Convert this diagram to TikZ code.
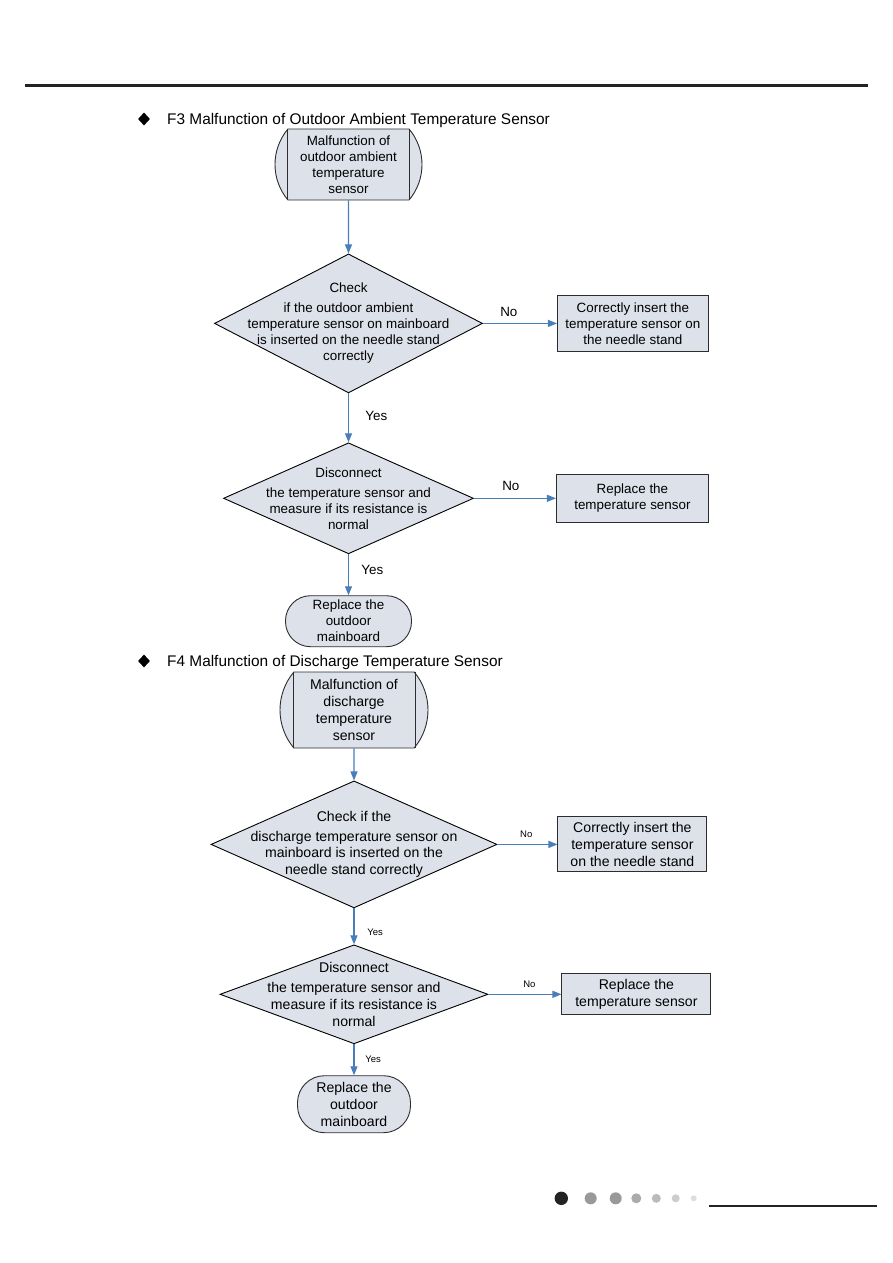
\documentclass[tikz,border=0pt]{standalone}
\usepackage{fontspec}
\setmainfont{Liberation Sans}
\usepackage{tikz}
\usetikzlibrary{positioning,arrows.meta,shapes.geometric,shapes.misc,calc}

\definecolor{boxfill}{RGB}{221,225,234}
\definecolor{flowblue}{RGB}{74,126,187}
\definecolor{edgegray}{RGB}{45,45,45}
\definecolor{rulegray}{RGB}{35,35,35}

\begin{document}
\begin{tikzpicture}[
  x=1pt, y=-1pt,
  startbox/.style={rounded rectangle, rounded rectangle arc length=80,
                   draw=edgegray, fill=boxfill, line width=0.9pt,
                   inner sep=1pt, align=center},
  endbox/.style={rectangle, rounded corners=25pt, draw=edgegray,
                 fill=boxfill, line width=0.9pt, inner sep=1pt, align=center},
  decision/.style={diamond, draw=black, fill=boxfill, line width=0.9pt,
                   inner sep=0pt},
  dtext/.style={align=center, inner sep=0pt},
  action/.style={rectangle, draw=edgegray, fill=boxfill, line width=0.9pt,
                 inner sep=1pt, align=center},
  startline/.style={draw=edgegray, line width=0.9pt},
  heading/.style={anchor=base west, inner sep=0pt,
                  font=\fontsize{15.4}{18}\selectfont},
  bullet/.style={diamond, fill=black, inner sep=0pt,
                 minimum width=12pt, minimum height=13pt},
  flow/.style={->, draw=flowblue, line width=1.2pt},
  >={Triangle[length=9pt,width=7pt]}
]
  \useasboundingbox (0,0) rectangle (893,1263);

  \draw[rulegray, line width=3pt] (25,85) -- (868,85);

  % F3
  \node[bullet] (f3mark) at (144,119) {};
  \node[heading] (f3title) at (167,124.5)
    {F3 Malfunction of Outdoor Ambient Temperature Sensor};

  \begin{scope}[font=\fontsize{13.4}{16}\selectfont]
    \node[startbox, minimum width=149pt, minimum height=71pt] (f3start)
      at (348.5,164.5) {Malfunction of\\outdoor ambient\\temperature\\sensor};
    \node[decision, minimum width=268pt, minimum height=139pt,
          below=53pt of f3start] (f3chk) {};
    \node[dtext] (f3chktxt) at (f3chk) {Check\\[4pt]if the outdoor ambient\\
      temperature sensor on mainboard\\is inserted on the needle stand\\correctly};
    \node[action, minimum width=151pt, minimum height=56pt,
          right=74pt of f3chk] (f3fix) {Correctly insert the\\
      temperature sensor on\\the needle stand};
    \node[decision, minimum width=250pt, minimum height=111pt,
          below=49pt of f3chk] (f3res) {};
    \node[dtext] (f3restxt) at (f3res) {Disconnect\\[4pt]the temperature sensor and\\
      measure if its resistance is\\normal};
    \node[action, minimum width=152pt, minimum height=48pt,
          right=82pt of f3res] (f3sensor) {Replace the\\temperature sensor};
    \node[endbox, minimum width=126pt, minimum height=51pt,
          below=41pt of f3res] (f3board) {Replace the\\outdoor\\mainboard};

    \draw[startline] ($(f3start.north)+(-61,0)$) -- ($(f3start.south)+(-61,0)$);
    \draw[startline] ($(f3start.north)+(61,0)$) -- ($(f3start.south)+(61,0)$);

    \draw[flow] (f3start) -- (f3chk);
    \draw[flow] (f3chk) -- node[above=3pt, pos=0.35] (f3no1) {No} (f3fix);
    \draw[flow] (f3chk) -- node[right=13pt, pos=0.47] (f3yes1) {Yes} (f3res);
    \draw[flow] (f3res) -- node[above=4pt, pos=0.45] (f3no2) {No} (f3sensor);
    \draw[flow] (f3res) -- node[right=9pt, pos=0.39] (f3yes2) {Yes} (f3board);
  \end{scope}

  % F4
  \node[bullet] (f4mark) at (144,661) {};
  \node[heading] (f4title) at (167,666.5)
    {F4 Malfunction of Discharge Temperature Sensor};

  \begin{scope}[font=\fontsize{14.1}{16.8}\selectfont]
    \node[startbox, minimum width=150pt, minimum height=76pt] (f4start)
      at (354,710) {Malfunction of\\discharge\\temperature\\sensor};
    \node[decision, minimum width=286pt, minimum height=127pt,
          below=32pt of f4start] (f4chk) {};
    \node[dtext] (f4chktxt) at (f4chk) {Check if the\\[3pt]discharge temperature sensor on\\
      mainboard is inserted on the\\needle stand correctly};
    \node[action, minimum width=149pt, minimum height=55pt,
          right=60pt of f4chk] (f4fix) {Correctly insert the\\
      temperature sensor\\on the needle stand};
    \node[decision, minimum width=268pt, minimum height=99pt,
          below=36pt of f4chk] (f4res) {};
    \node[dtext] (f4restxt) at (f4res) {Disconnect\\[3pt]the temperature sensor and\\
      measure if its resistance is\\normal};
    \node[action, minimum width=149pt, minimum height=41pt,
          right=73pt of f4res] (f4sensor) {Replace the\\temperature sensor};
    \node[endbox, rounded corners=27pt, minimum width=113pt, minimum height=57pt,
          below=31pt of f4res] (f4board) {Replace the\\outdoor\\mainboard};

    \draw[startline] ($(f4start.north)+(-61,0)$) -- ($(f4start.south)+(-61,0)$);
    \draw[startline] ($(f4start.north)+(61,0)$) -- ($(f4start.south)+(61,0)$);

    \begin{scope}[every node/.style={font=\fontsize{9.5}{11}\selectfont}]
      \draw[flow] (f4start) -- (f4chk);
      \draw[flow] (f4chk) -- node[above=3pt, pos=0.48] (f4no1) {No} (f4fix);
      \draw[flow] (f4chk) -- node[right=9.5pt, pos=0.67] (f4yes1) {Yes} (f4res);
      \draw[flow] (f4res) -- node[above=3pt, pos=0.56] (f4no2) {No} (f4sensor);
      \draw[flow] (f4res) -- node[right=7.5pt, pos=0.48] (f4yes2) {Yes} (f4board);
    \end{scope}
  \end{scope}

  \fill[rulegray] (561.3,1198.3) circle[radius=6.7pt];
  \fill[black!40] (590.7,1198.3) circle[radius=6pt];
  \fill[black!40] (615.7,1198.3) circle[radius=6pt];
  \fill[black!33] (636.3,1198.3) circle[radius=5pt];
  \fill[black!27] (656.3,1198.3) circle[radius=4.5pt];
  \fill[black!20] (675.7,1198.3) circle[radius=4pt];
  \fill[black!13] (693.7,1198.3) circle[radius=3pt];
  \draw[rulegray, line width=2.2pt] (709,1205.7) -- (877,1205.7);
\end{tikzpicture}
\end{document}
